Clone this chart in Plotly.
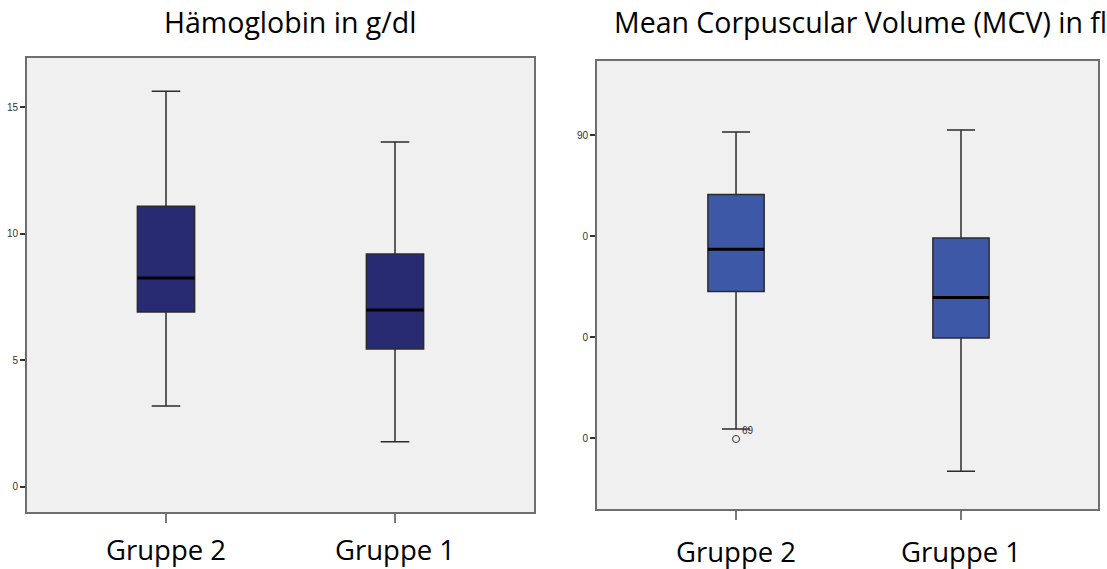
import plotly.graph_objects as go

# Groups shown on each panel
groups = ["Gruppe 2", "Gruppe 1"]

# Hämoglobin in g/dl – box statistics per group
hb_lower = [3.2, 1.78]
hb_q1 = [6.91, 5.45]
hb_median = [8.25, 6.99]
hb_q3 = [11.09, 9.2]
hb_upper = [15.63, 13.62]

# Mean Corpuscular Volume (MCV) in fl – box statistics per group
mcv_lower = [60.9, 56.7]
mcv_q1 = [74.5, 69.9]
mcv_median = [78.7, 73.9]
mcv_q3 = [84.1, 79.8]
mcv_upper = [90.3, 90.5]

# Outlier in Gruppe 2 (case 69)
mcv_outlier_group = ["Gruppe 2"]
mcv_outlier_value = [59.9]
mcv_outlier_label = ["69"]

# Y tick labels
hb_ticks = [0, 5, 10, 15]
hb_ticktext = ["0", "5", "10", "15"]
mcv_ticks = [60, 70, 80, 90]
mcv_ticktext = ["0", "0", "0", "90"]

BOX_W = 0.25
HB_FILL = "#282a72"
MCV_FILL = "#3e58a8"
PLOT_BG = "#f0f0f0"
LABEL_FONT = "Open Sans"
LABEL_SIZE = 27.5
TITLE_SIZE = 28.5

fig = go.Figure()

fig.add_trace(go.Box(
    x=groups, q1=hb_q1, median=hb_median, q3=hb_q3,
    lowerfence=hb_lower, upperfence=hb_upper,
    fillcolor=HB_FILL, line=dict(color="#2b2b2b", width=1.5),
    width=BOX_W, whiskerwidth=0.5, boxpoints=False,
    xaxis="x", yaxis="y", showlegend=False, hoverinfo="skip",
))

fig.add_trace(go.Box(
    x=groups, q1=mcv_q1, median=mcv_median, q3=mcv_q3,
    lowerfence=mcv_lower, upperfence=mcv_upper,
    fillcolor=MCV_FILL, line=dict(color="#2b2b2b", width=1.5),
    width=BOX_W, whiskerwidth=0.5, boxpoints=False,
    xaxis="x2", yaxis="y2", showlegend=False, hoverinfo="skip",
))

fig.add_trace(go.Scatter(
    x=mcv_outlier_group, y=mcv_outlier_value, mode="markers",
    marker=dict(symbol="circle-open", size=7, color="#333333", line=dict(width=1)),
    xaxis="x2", yaxis="y2", showlegend=False, hoverinfo="skip",
))

# Thick median bars
shapes = []
for i, m in enumerate(hb_median):
    shapes.append(dict(type="line", xref="x", yref="y",
                       x0=i - BOX_W / 2, x1=i + BOX_W / 2, y0=m, y1=m,
                       line=dict(color="black", width=3)))
for i, m in enumerate(mcv_median):
    shapes.append(dict(type="line", xref="x2", yref="y2",
                       x0=i - BOX_W / 2, x1=i + BOX_W / 2, y0=m, y1=m,
                       line=dict(color="black", width=3)))

annotations = [
    dict(text="Hämoglobin in g/dl", xref="paper", yref="paper",
         x=162 / 1107, y=1 - 22 / 569, showarrow=False,
         font=dict(family=LABEL_FONT, size=TITLE_SIZE, color="black"),
         xanchor="left", yanchor="middle"),
    dict(text="Mean Corpuscular Volume (MCV) in fl", xref="paper", yref="paper",
         x=612 / 1107, y=1 - 22 / 569, showarrow=False,
         font=dict(family=LABEL_FONT, size=TITLE_SIZE, color="black"),
         xanchor="left", yanchor="middle"),
]
for g, v, lab in zip(mcv_outlier_group, mcv_outlier_value, mcv_outlier_label):
    annotations.append(dict(text=lab, xref="x2", yref="y2", x=groups.index(g), y=v,
                            xshift=4, yshift=9, showarrow=False,
                            font=dict(family="Liberation Sans", size=10, color="#333"),
                            xanchor="left", yanchor="middle"))

xaxis_common = dict(
    type="category", showgrid=False, zeroline=False,
    showline=True, mirror=True, linecolor="#6e6e6e", linewidth=2,
    ticks="outside", ticklen=9, tickcolor="#7a7a7a", tickwidth=1.5,
    tickfont=dict(family=LABEL_FONT, size=LABEL_SIZE, color="black"),
)
yaxis_common = dict(
    showgrid=False, zeroline=False,
    showline=True, mirror=True, linecolor="#6e6e6e", linewidth=2,
    ticks="outside", ticklen=5, tickcolor="#333", tickwidth=1.5,
    tickfont=dict(family="Liberation Sans", size=10, color="#333"),
)

fig.update_layout(
    width=1107, height=569,
    margin=dict(l=0, r=0, t=0, b=0),
    paper_bgcolor="white", plot_bgcolor=PLOT_BG,
    xaxis=dict(xaxis_common, domain=[27 / 1107, 534 / 1107], range=[-0.607, 1.607],
               anchor="y", ticklabelstandoff=4),
    yaxis=dict(yaxis_common, domain=[57 / 569, 511 / 569], range=[-0.99, 16.94],
               tickvals=hb_ticks, ticktext=hb_ticktext, anchor="x"),
    xaxis2=dict(xaxis_common, domain=[597 / 1107, 1098 / 1107], range=[-0.618, 1.609],
                anchor="y2", ticklabelstandoff=9),
    yaxis2=dict(yaxis_common, domain=[60 / 569, 508 / 569], range=[52.97, 97.33],
                tickvals=mcv_ticks, ticktext=mcv_ticktext, anchor="x2"),
    shapes=shapes,
    annotations=annotations,
)

fig.write_html("out.html")
